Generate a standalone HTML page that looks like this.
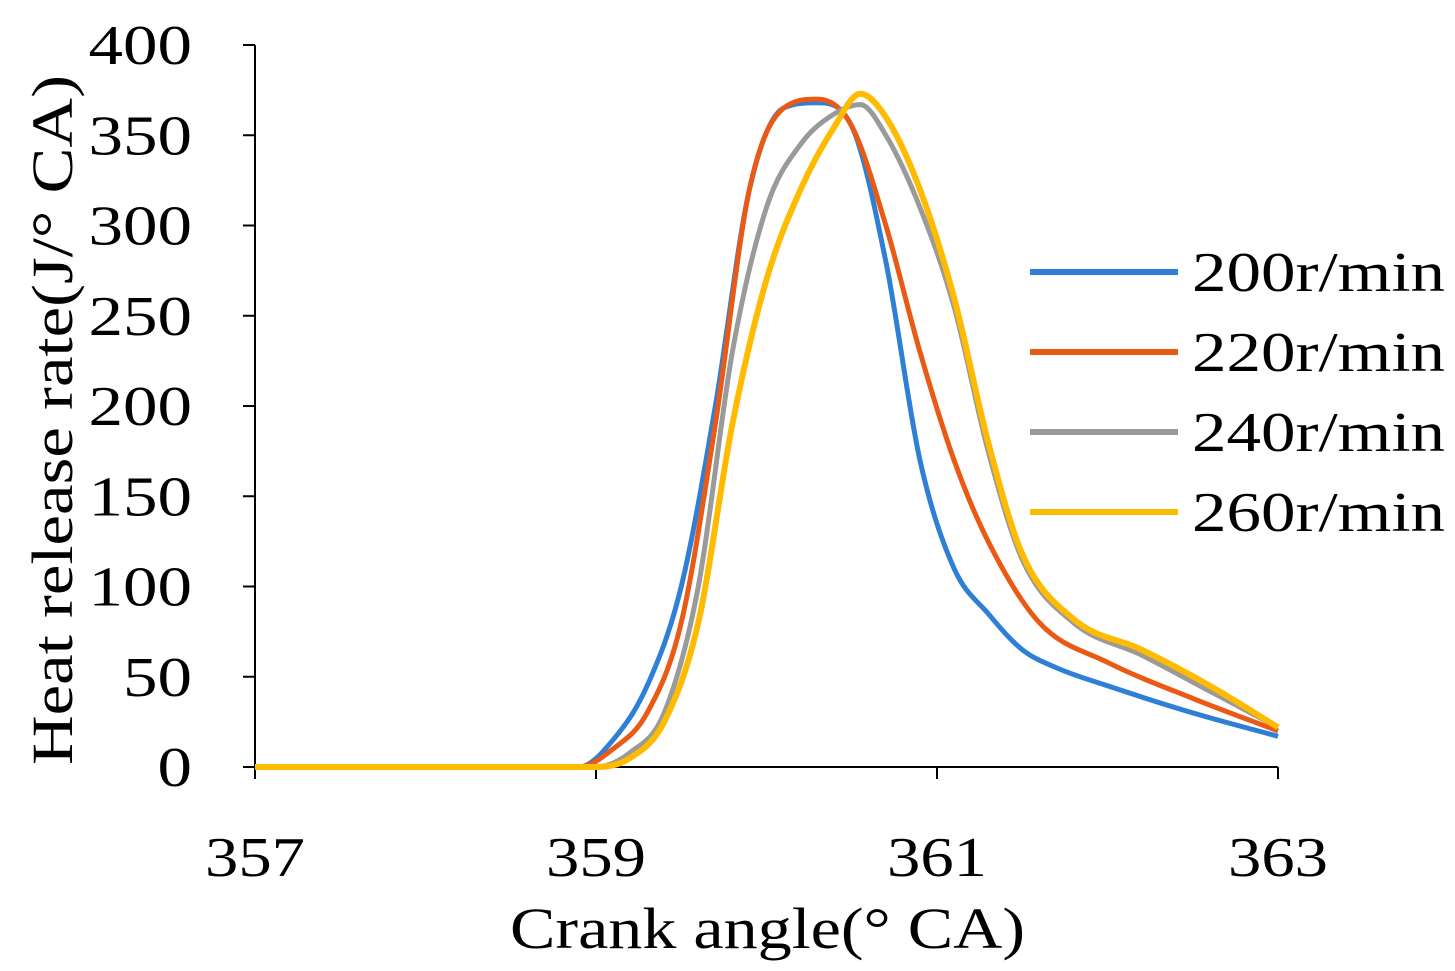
<!DOCTYPE html>
<html><head><meta charset="utf-8"><style>
html,body{margin:0;padding:0;background:#fff;}
svg{display:block;font-family:"Liberation Serif",serif;}
</style></head><body>
<svg id="chart" width="1455" height="971"></svg>
<script>
const xTicks=[357,359,361,363];
const yTicks=[0,50,100,150,200,250,300,350,400];
const seriesNames=["200r/min","220r/min","240r/min","260r/min"];
const seriesColors=["#2f7fd6","#ea5a14","#9a9a9a","#ffbb00"];
const xs200=[357,358.9,359.1,359.3,359.5,359.7,359.9,360.1,360.3,360.5,360.7,360.9,361.1,361.3,361.5,361.7,362,362.5,363];
const ys200=[0,0,15,45,100,200,320,365,368,355,280,170,110,85,65,55,45,30,17];
const xs220=[357,358.9,359.1,359.3,359.5,359.7,359.9,360.1,360.3,360.5,360.7,360.9,361.1,361.3,361.6,362,362.5,363];
const ys220=[0,0,10,30,80,190,320,365,370,355,300,230,170,125,80,58,38,20];
const xs240=[357,359,359.2,359.4,359.6,359.8,360,360.2,360.4,360.55,360.7,360.9,361.1,361.3,361.5,361.8,362.2,362.6,363];
const ys240=[0,0,8,30,100,230,310,345,362,367,350,310,255,175,115,80,62,42,22];
const xs260=[357,359,359.2,359.4,359.6,359.8,360,360.2,360.4,360.55,360.7,360.9,361.1,361.3,361.5,361.8,362.2,362.6,363];
const ys260=[0,0,5,25,80,190,270,320,355,373,360,320,260,180,118,82,65,45,22];
const allX=[xs200,xs220,xs240,xs260], allY=[ys200,ys220,ys240,ys260];
const NS="http://www.w3.org/2000/svg", svg=document.getElementById("chart");
const X0=255,X1=1278,Y0=767,Y1=45;
const sx=v=>X0+(v-357)/(363-357)*(X1-X0);
const sy=v=>Y0-(v/400)*(Y0-Y1);
function mk(t,a,p){const e=document.createElementNS(NS,t);for(const k in a)e.setAttribute(k,a[k]);(p||svg).appendChild(e);return e;}
let e;
e=mk("line",{x1:X0,y1:Y1,x2:X0,y2:Y0,stroke:"#000","stroke-width":2});


e=mk("line",{x1:X0,y1:Y0,x2:X1,y2:Y0,stroke:"#000","stroke-width":2});


yTicks.forEach(v=>{
 e=mk("line",{x1:X0-12,y1:sy(v),x2:X0,y2:sy(v),stroke:"#000","stroke-width":2});
 
 
 const s=String(v);
 e=mk("text",{x:192,y:sy(v)+19,"text-anchor":"end","font-size":56,textLength:s.length*34.5,lengthAdjust:"spacingAndGlyphs"});
 e.textContent=s;
 
 
});
xTicks.forEach(v=>{
 e=mk("line",{x1:sx(v),y1:Y0,x2:sx(v),y2:Y0+12,stroke:"#000","stroke-width":2});
 
 
 e=mk("text",{x:sx(v)-100/2,y:876,"font-size":56,textLength:100,lengthAdjust:"spacingAndGlyphs"});
 e.textContent=v;
 
 
});
e=mk("text",{x:510,y:948,"font-size":58,textLength:515,lengthAdjust:"spacingAndGlyphs"});
e.textContent="Crank angle(° CA)";


e=mk("text",{x:0,y:0,"font-size":58,textLength:690,lengthAdjust:"spacingAndGlyphs",transform:"translate(72,765) rotate(-90)"});
e.textContent="Heat release rate(J/° CA)";


function path(xa,ya){
 const p=xa.map((x,i)=>[sx(x),sy(ya[i])]);
 const n=p.length, d=[], m=[];
 for(let i=0;i<n-1;i++)d.push((p[i+1][1]-p[i][1])/(p[i+1][0]-p[i][0]));
 for(let i=0;i<n;i++){
  if(i==0)m.push(d[0]);else if(i==n-1)m.push(d[n-2]);
  else m.push(d[i-1]*d[i]<=0?0:(d[i-1]+d[i])/2);
 }
 for(let i=0;i<n-1;i++){
  if(d[i]==0){m[i]=0;m[i+1]=0;continue;}
  const a=m[i]/d[i],b=m[i+1]/d[i],s=a*a+b*b;
  if(s>9){const t=3/Math.sqrt(s);m[i]=t*a*d[i];m[i+1]=t*b*d[i];}
 }
 let s="M"+p[0][0]+","+p[0][1];
 for(let i=0;i<n-1;i++){
  const h=(p[i+1][0]-p[i][0])/3;
  s+=" C"+(p[i][0]+h)+","+(p[i][1]+m[i]*h)+" "+(p[i+1][0]-h)+","+(p[i+1][1]-m[i+1]*h)+" "+p[i+1][0]+","+p[i+1][1];
 }
 return s;
}
allX.forEach((xa,i)=>{
 e=mk("path",{d:path(xa,allY[i]),fill:"none",stroke:seriesColors[i],"stroke-width":i==3?6:5,"stroke-linejoin":"round"});
 
 
 const ly=272+i*80;
 e=mk("line",{x1:1030,y1:ly,x2:1178,y2:ly,stroke:seriesColors[i],"stroke-width":6});
 
 
 e=mk("text",{x:1192,y:ly+19,"font-size":56,textLength:253,lengthAdjust:"spacingAndGlyphs"});
 e.textContent=seriesNames[i];
 
 
});
</script>
</body></html>
